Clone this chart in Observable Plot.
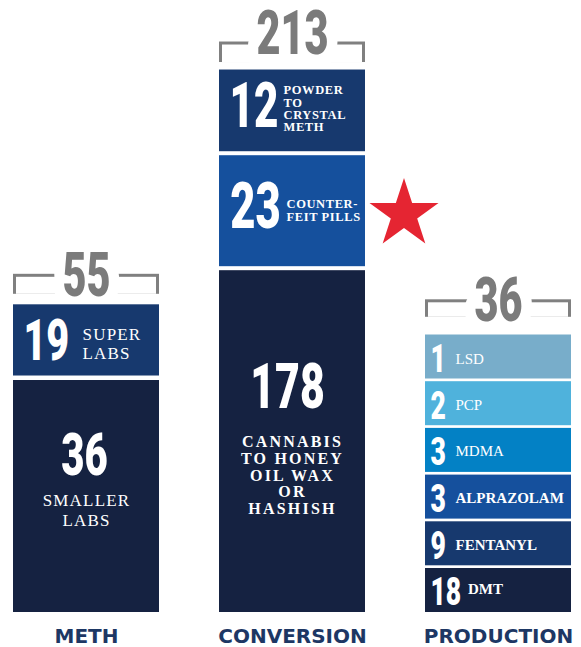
<!DOCTYPE html>
<html>
<head>
<meta charset="utf-8">
<script src="https://cdn.jsdelivr.net/npm/d3@7"></script>
<script src="https://cdn.jsdelivr.net/npm/@observablehq/plot@0.6"></script>
<style>
  html, body { margin: 0; padding: 0; background: #ffffff; }
  #chart svg { display: block; }
</style>
</head>
<body>
<div id="chart"></div>
<script>
// ---------------- data ----------------
const columns = ["METH", "CONVERSION", "PRODUCTION"];
const columnTotals = [55, 213, 36];

// listed bottom -> top
const methLabels = ["SMALLER\nLABS", "SUPER\nLABS"];
const methValues = [36, 19];

const conversionLabels = ["CANNABIS\nTO HONEY\nOIL WAX\nOR\nHASHISH", "COUNTER-\nFEIT PILLS", "POWDER\nTO\nCRYSTAL\nMETH"];
const conversionValues = [178, 23, 12];

const productionLabels = ["DMT", "FENTANYL", "ALPRAZOLAM", "MDMA", "PCP", "LSD"];
const productionValues = [18, 9, 3, 3, 2, 1];

// ---------------- layout / style (display only) ----------------
const PX = 46.7;               // pixels per display slot on the y scale
const PAD = 60 / 206;          // band inner padding
const BW = (571 - 13) / (3 - PAD) * (1 - PAD);
const SQUEEZE = 0.68;          // horizontal condensing of the display numerals
const NUM_FONT = "Roboto, 'num-marker', sans-serif";
const serif = ls => `'Liberation Serif', 'ls-${ls}', serif`;

// the infographic blocks are not drawn to scale: display heights in slots
const slotHeights = {
  METH: [5.064, 1.621],
  CONVERSION: [7.405, 2.462, 1.835],
  PRODUCTION: [1, 1, 1, 1, 1, 1]
};
const fills = {
  METH: ["#152241", "#17396e"],
  CONVERSION: ["#152241", "#15509d", "#17396e"],
  PRODUCTION: ["#152241", "#17396e", "#15509d", "#0381c5", "#4fb2dc", "#78adca"]
};
const columnStyle = {
  METH:       {gap: 4.5, lineTop: -26,   foot: -6,   totalDy: -24},
  CONVERSION: {gap: 4,   lineTop: -24,   foot: -3.5, totalDy: -32},
  PRODUCTION: {gap: 2.7, lineTop: -32.5, foot: -15,  totalDy: -31}
};
const sideProd = (bold, dy) => ({mode: "side", numSize: 39, numDx: 5, numDy: 2.5, labDy: dy, size: 15, weight: bold ? 700 : 400, lh: 1, ls: 0});
const segStyle = {
  METH: [
    {mode: "stack", numSize: 59, numDx: -2, numDy: -40, labDy: 12.8, size: 17, weight: 400, lh: 1.18, ls: 1.2},
    {mode: "side", numSize: 58, numDx: 10, labDx: 69, numDy: 1, labDy: 3.4, size: 17, weight: 400, lh: 1.12, ls: 1.2}
  ],
  CONVERSION: [
    {mode: "stack", numSize: 63, numDx: -5, numDy: -54, labDy: 33.6, size: 16, weight: 700, lh: 1.044, ls: 2.2},
    {mode: "side", numSize: 64, numDx: 10.7, labDx: 67, numDy: -4, labDy: -0.7, size: 12.5, weight: 700, lh: 1.0, ls: 0.6},
    {mode: "side", numSize: 62, numDx: 10, labDx: 64, numDy: -4, labDy: -2, size: 12.5, weight: 700, lh: 0.99, ls: 0.6}
  ],
  PRODUCTION: [
    sideProd(true, -1.7), sideProd(true, 1), sideProd(true, 1),
    sideProd(false, 1), sideProd(false, 1), sideProd(false, 2)
  ]
};

// ---------------- tables ----------------
function buildColumn(col, labels, values) {
  let acc = 0;
  const gap = columnStyle[col].gap;
  return values.map((v, i) => {
    const st = segStyle[col][i];
    const y1 = acc, y2 = acc + slotHeights[col][i];
    acc = y2;
    const mid = (y1 + y2) / 2 - gap / (2 * PX);
    const digits = String(v).length;
    return {
      column: col, value: v, label: labels[i], y1, y2, fill: fills[col][i], ...st,
      labDx: st.labDx ?? (st.numDx + 12.5 * digits + 12.5),
      midY: mid, numY: mid - st.numDy / PX, labY: mid - st.labDy / PX
    };
  });
}
const segments = [
  ...buildColumn("METH", methLabels, methValues),
  ...buildColumn("CONVERSION", conversionLabels, conversionValues),
  ...buildColumn("PRODUCTION", productionLabels, productionValues)
];
const totalsData = columns.map((c, i) => ({
  column: c, total: columnTotals[i], top: d3.sum(slotHeights[c])
}));

// ---------------- marks ----------------
const marks = [];
for (const t of totalsData) {
  const cs = columnStyle[t.column];
  marks.push(
    Plot.barY([t], {x: "column", y1: "top", y2: "top", fill: "#808080",
      insetTop: cs.lineTop, insetBottom: -cs.foot}),
    Plot.barY([t], {x: "column", y1: "top", y2: "top", fill: "#ffffff",
      insetTop: cs.lineTop + 3, insetBottom: -cs.foot, insetLeft: 3, insetRight: 3}),
    Plot.text([t], {x: "column", y: "top", text: d => String(d.total), dy: cs.totalDy,
      fontSize: 61, fontWeight: 900, fontFamily: NUM_FONT, fill: "#7b7b7b",
      stroke: "#ffffff", strokeWidth: 31, paintOrder: "stroke", strokeLinejoin: "round",
      textAnchor: "middle", lineAnchor: "middle"})
  );
}
for (const col of columns) {
  marks.push(Plot.barY(segments.filter(d => d.column === col), {
    x: "column", y1: "y1", y2: "y2", fill: "fill", insetTop: columnStyle[col].gap
  }));
}
for (const s of segments) {
  const side = s.mode === "side";
  marks.push(
    Plot.text([s], {x: "column", y: "numY", text: d => String(d.value),
      textAnchor: side ? "start" : "middle", dx: side ? s.numDx - BW / 2 : s.numDx,
      fontSize: s.numSize, fontWeight: 900, fontFamily: NUM_FONT, fill: "#ffffff",
      lineAnchor: "middle"}),
    Plot.text([s], {x: "column", y: "labY", text: "label",
      textAnchor: side ? "start" : "middle", dx: side ? s.labDx - BW / 2 : 0,
      fontSize: s.size, fontWeight: s.weight, fontFamily: serif(s.ls), fill: "#ffffff",
      lineAnchor: "middle", lineHeight: s.lh})
  );
}
marks.push(
  Plot.dot(segments.filter(d => d.column === "CONVERSION" && d.value === 23), {
    x: "column", y: "midY", symbol: "star", r: 21.7, fill: "#e52532", dx: 111.5, dy: 3
  }),
  Plot.text(columns, {x: d => d, text: d => d, frameAnchor: "bottom", dy: 23.7,
    fontFamily: "'DejaVu Sans', sans-serif", fontWeight: 700, fontSize: 20, fill: "#1d3764",
    textAnchor: "middle", lineAnchor: "middle"})
);

const chart = Plot.plot({
  width: 581, height: 647,
  marginTop: 0, marginBottom: 35, marginLeft: 0, marginRight: 0,
  x: {domain: columns, range: [13, 571], paddingInner: PAD, paddingOuter: 0, axis: null},
  y: {domain: [0, 612 / PX], axis: null},
  color: {type: "identity"},
  style: {background: "#ffffff", overflow: "visible"},
  marks
});

// condense the display numerals, apply letter spacing to label groups
chart.querySelectorAll("g[font-family]").forEach(g => {
  const ff = g.getAttribute("font-family");
  if (ff.includes("num-marker")) {
    g.querySelectorAll("text").forEach(t => {
      const tr = t.getAttribute("transform");
      if (tr) t.setAttribute("transform", tr + ` scale(${SQUEEZE},1)`);
      else {
        const x = +t.getAttribute("x") || 0;
        t.setAttribute("transform", `translate(${x},0) scale(${SQUEEZE},1) translate(${-x},0)`);
      }
    });
  }
  const m = ff.match(/'ls-([\d.]+)'/);
  if (m) g.style.letterSpacing = m[1] + "px";
});
document.getElementById("chart").appendChild(chart);
</script>
</body>
</html>
